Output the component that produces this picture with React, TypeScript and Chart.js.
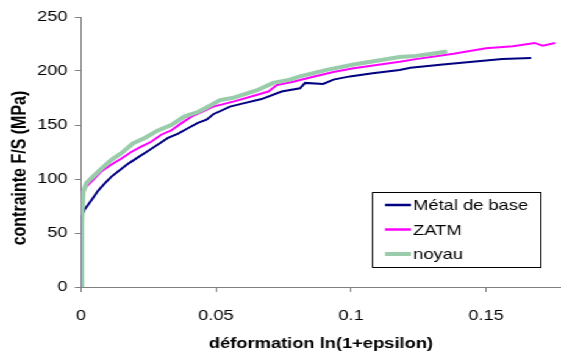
import React, { useEffect, useRef } from "react";
import { Chart, registerables } from "chart.js";

Chart.register(...registerables);

// ---- data ----
const metalX = [0, 0.0002, 0.0014, 0.0038, 0.0063, 0.0088, 0.0112, 0.0137, 0.0174, 0.0211, 0.0248, 0.0285, 0.0322, 0.036, 0.0396, 0.0433, 0.0465, 0.049, 0.0552, 0.0601, 0.0669, 0.0743, 0.0811, 0.083, 0.0897, 0.0935, 0.0996, 0.108, 0.118, 0.122, 0.134, 0.147, 0.156, 0.1667];
const metalY = [0, 65, 72, 80, 89, 96, 102, 107, 114, 120, 126, 132, 138, 142, 147, 152, 155, 160, 167, 170, 174, 181, 184, 189, 188, 192, 195, 198, 201, 203, 206, 209, 211, 212];

const zatmX = [0.0003, 0.0003, 0.0007, 0.002, 0.0044, 0.0075, 0.011, 0.015, 0.0186, 0.0223, 0.026, 0.0297, 0.0334, 0.0371, 0.041, 0.0446, 0.049, 0.0564, 0.065, 0.0694, 0.0725, 0.0786, 0.086, 0.0935, 0.101, 0.1095, 0.118, 0.124, 0.138, 0.15, 0.16, 0.168, 0.171, 0.1756];
const zatmY = [0, 60, 90, 93, 99, 107, 113, 119, 125, 130, 134.5, 141, 145, 151.5, 158, 162, 167, 171.6, 177.8, 181, 187, 190, 194.7, 199, 202.5, 205.6, 208.6, 211, 216, 221, 223, 226, 223.5, 226];

const noyauX = [0.0003, 0.0003, 0.0008, 0.002, 0.0038, 0.0069, 0.0112, 0.015, 0.0193, 0.0236, 0.0285, 0.0334, 0.0384, 0.0433, 0.0464, 0.0515, 0.056, 0.065, 0.0712, 0.0774, 0.0811, 0.091, 0.101, 0.1107, 0.118, 0.124, 0.13, 0.1356];
const noyauY = [0, 60, 88, 96, 100.6, 108, 117.6, 124, 133, 138, 145, 150, 158, 162, 166, 173, 175, 182, 189, 192, 195, 201, 206, 210, 213, 214, 216, 218];

const seriesNames = ["Métal de base", "ZATM", "noyau"];
const xTicks = [0, 0.05, 0.1, 0.15];
const yTicks = [0, 50, 100, 150, 200, 250];
const xTitle = "déformation ln(1+epsilon)";
const yTitle = "contrainte F/S (MPa)";

// ---- styles ----
const W = 460;
const H = 356;
const SX = 561 / W;
const FONT = "'Liberation Sans', Arial, sans-serif";
const COLORS = ["#000080", "#FF00FF", "#99CCAA"];
const WIDTHS = [2, 2, 4];
const AXIS = "#808080";

const toPoints = (xs: number[], ys: number[]) => xs.map((x, i) => ({ x, y: ys[i] }));

const overlayPlugin = {
  id: "overlay",
  afterDraw(chart: any) {
    const ctx = chart.ctx as CanvasRenderingContext2D;
    ctx.save();
    // y axis title
    ctx.translate(16.4, 168);
    ctx.rotate(-Math.PI / 2);
    ctx.font = `bold 16px ${FONT}`;
    ctx.fillStyle = "#000";
    ctx.textAlign = "center";
    ctx.textBaseline = "middle";
    ctx.fillText(yTitle, 0, 0);
    ctx.restore();

    // legend box
    const bx = 305, by = 192, bw = 138, bh = 75;
    ctx.save();
    ctx.fillStyle = "#fff";
    ctx.fillRect(bx, by, bw, bh);
    ctx.strokeStyle = "#000";
    ctx.lineWidth = 1;
    ctx.strokeRect(Math.round(bx) + 0.5, by + 0.5, bw, bh);
    const rows = [205, 229.5, 254];
    ctx.font = `15px ${FONT}`;
    ctx.textBaseline = "middle";
    ctx.textAlign = "left";
    seriesNames.forEach((name, i) => {
      ctx.strokeStyle = COLORS[i];
      ctx.lineWidth = WIDTHS[i] + (i === 2 ? 0 : 0.5);
      ctx.beginPath();
      ctx.moveTo(315.7, rows[i]);
      ctx.lineTo(337, rows[i]);
      ctx.stroke();
      ctx.fillStyle = "#000";
      ctx.fillText(name, 338.8, rows[i] + 1);
    });
    ctx.restore();
  },
};

export default function App() {
  const ref = useRef<HTMLCanvasElement | null>(null);

  useEffect(() => {
    if (!ref.current) return;
    const data = [
      toPoints(metalX, metalY),
      toPoints(zatmX, zatmY),
      toPoints(noyauX, noyauY),
    ];
    const chart = new Chart(ref.current, {
      type: "line",
      data: {
        datasets: data.map((d, i) => ({
          label: seriesNames[i],
          data: d,
          borderColor: COLORS[i],
          backgroundColor: COLORS[i],
          borderWidth: WIDTHS[i],
          pointRadius: 0,
          tension: 0,
          fill: false,
          order: 2 - i,
        })),
      },
      options: {
        animation: false,
        responsive: false,
        devicePixelRatio: 1,
        layout: { padding: { top: 17, left: 0, right: 0, bottom: 0 } },
        plugins: { legend: { display: false }, tooltip: { enabled: false } },
        scales: {
          x: {
            type: "linear",
            min: 0,
            max: 480 / 2700,
            afterFit: (s: any) => {
              s.height = 69;
            },
            afterBuildTicks: (s: any) => {
              s.ticks = xTicks.map((v) => ({ value: v }));
            },
            ticks: {
              font: { family: FONT, size: 15 },
              color: "#000",
              padding: 15,
              maxRotation: 0,
              autoSkip: false,
              callback: (v: any) => String(v),
            },
            grid: { display: true, drawOnChartArea: false, drawTicks: true, tickLength: 5, color: AXIS },
            border: { display: true, color: AXIS, width: 1 },
            title: {
              display: true,
              text: xTitle,
              color: "#000",
              font: { family: FONT, size: 15, weight: "bold" },
              padding: { top: 0, bottom: 3 },
            },
          },
          y: {
            type: "linear",
            min: 0,
            max: 250,
            afterFit: (s: any) => {
              s.width = 81 / SX;
            },
            afterBuildTicks: (s: any) => {
              s.ticks = yTicks.map((v) => ({ value: v }));
            },
            ticks: {
              font: { family: FONT, size: 15 },
              color: "#000",
              padding: 6,
              autoSkip: false,
              callback: (v: any) => String(v),
            },
            grid: { display: true, drawOnChartArea: false, drawTicks: true, tickLength: 5, color: AXIS },
            border: { display: true, color: AXIS, width: 1 },
            title: { display: false },
          },
        },
      },
      plugins: [overlayPlugin],
    } as any);
    return () => chart.destroy();
  }, []);

  return (
    <div
      style={{
        position: "absolute",
        left: 0,
        top: 0,
        width: W,
        height: H,
        transform: `scaleX(${SX})`,
        transformOrigin: "0 0",
        background: "#fff",
      }}
    >
      <canvas ref={ref} width={W} height={H} style={{ display: "block" }} />
    </div>
  );
}
